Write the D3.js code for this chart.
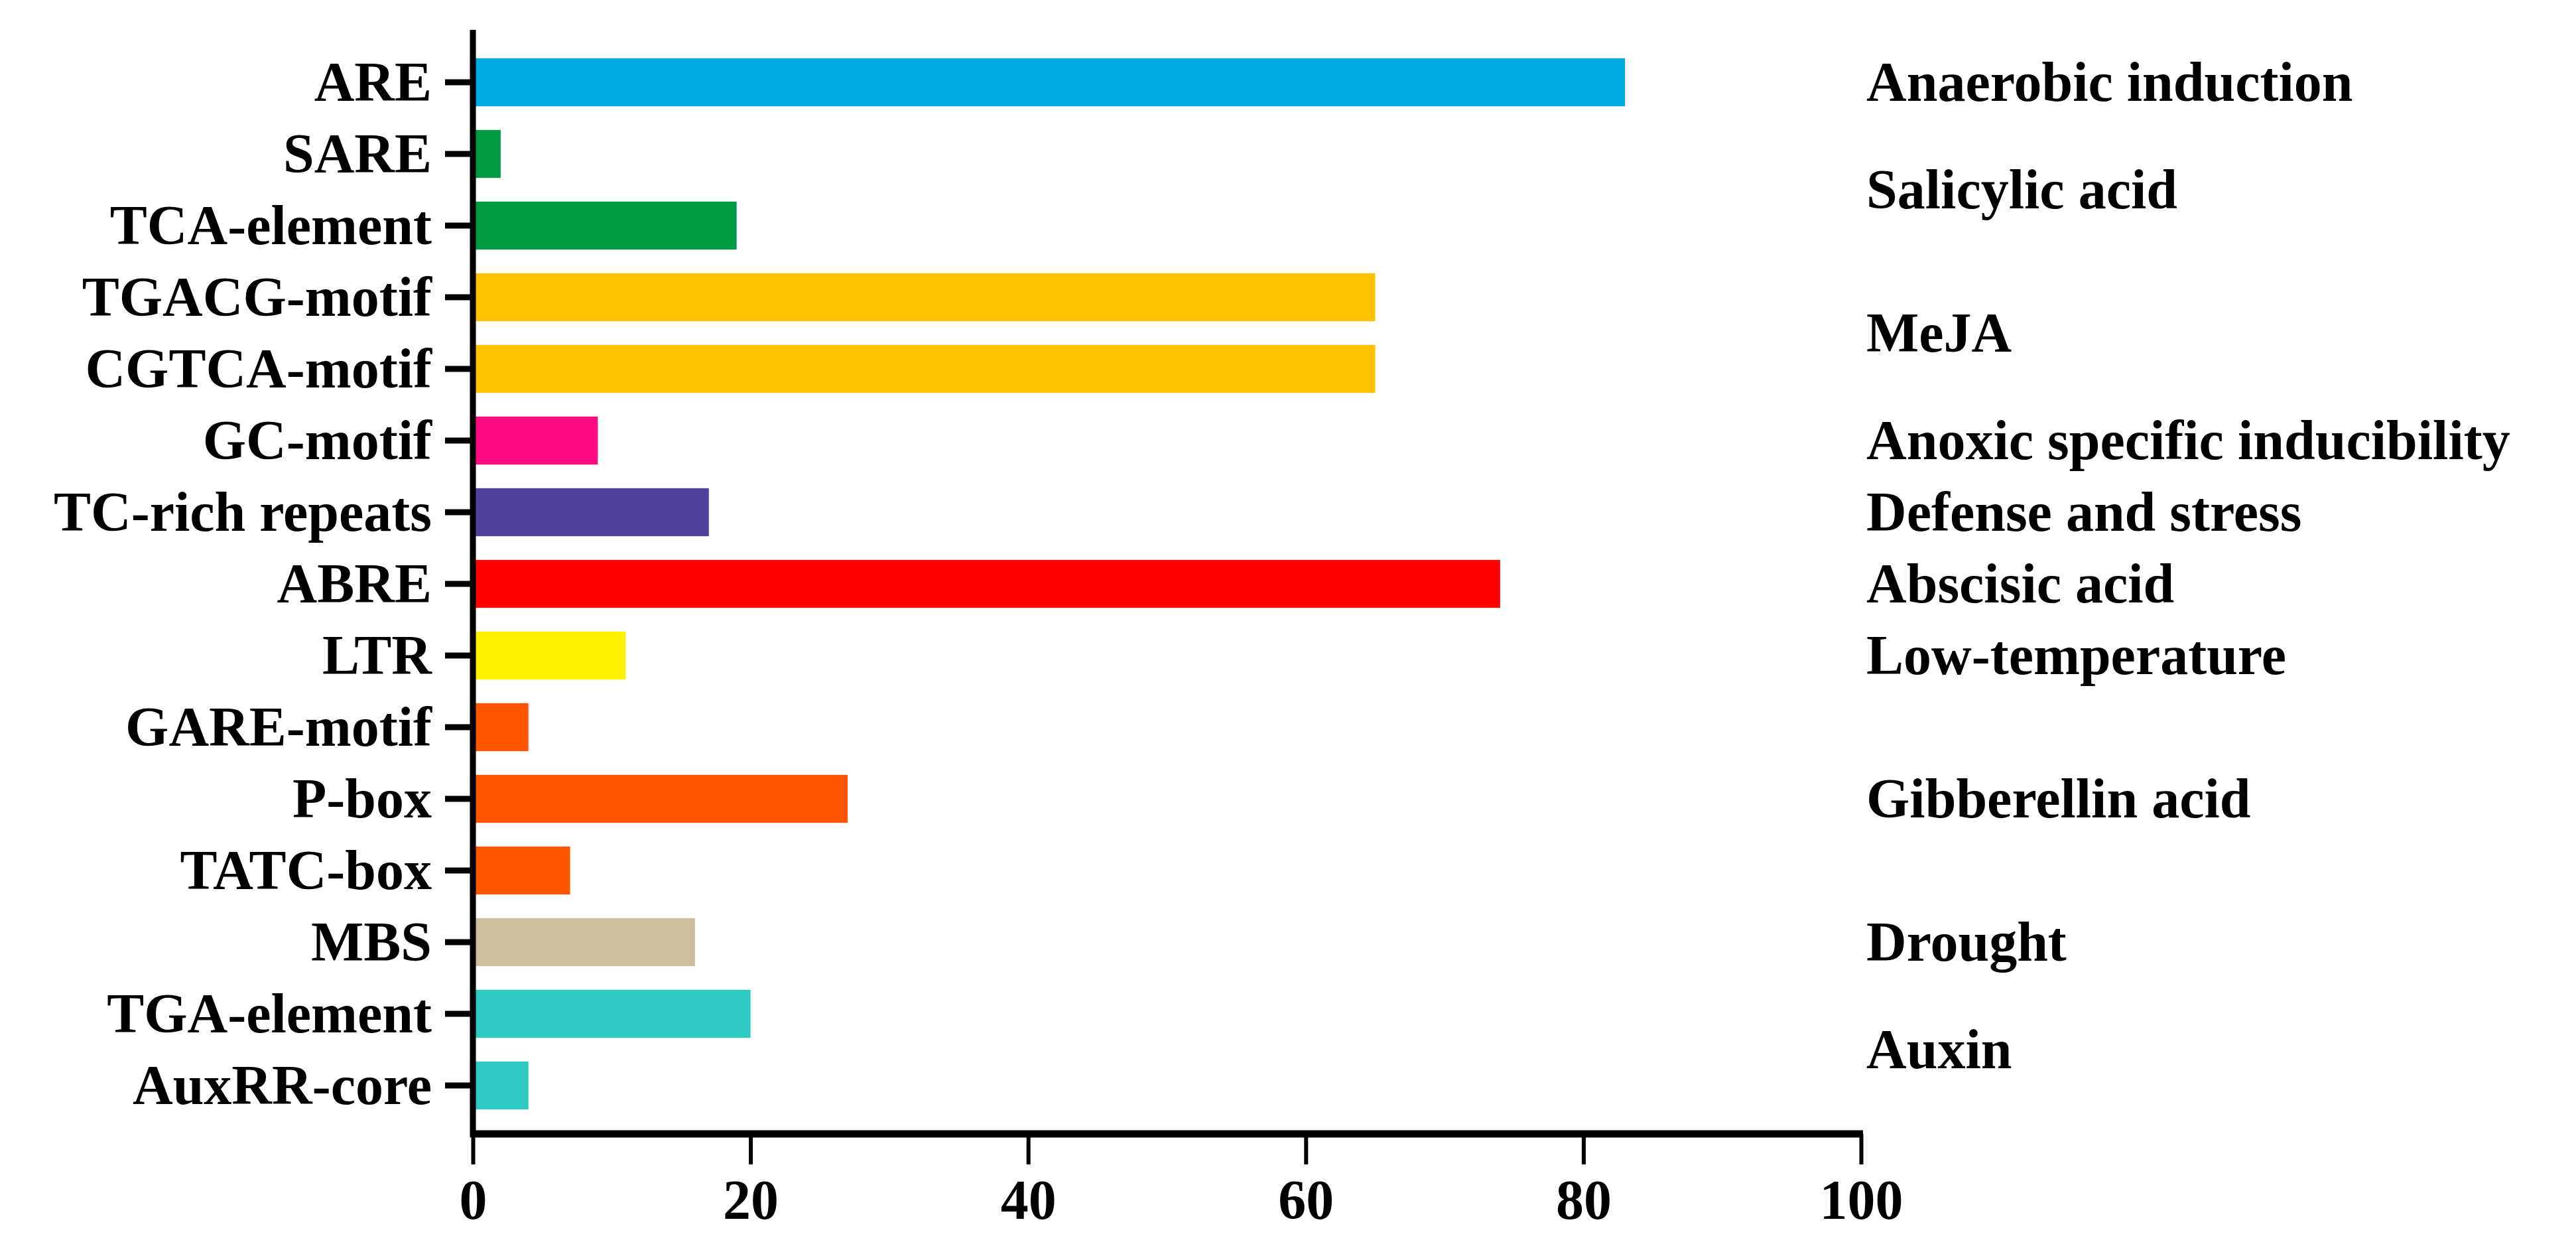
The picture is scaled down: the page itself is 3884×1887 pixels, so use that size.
<!DOCTYPE html>
<html>
  <head>
    <meta charset="utf-8" />
    <script src="https://d3js.org/d3.v7.min.js"></script>
    <style>
      body { margin: 0; background: #fff; }
      text { font-family: "Liberation Serif", "Times New Roman", serif; font-weight: bold; fill: #000; }
    </style>
  </head>
  <body>
    <div id="chart"></div>
    <script>
      const categories = ["ARE", "SARE", "TCA-element", "TGACG-motif", "CGTCA-motif", "GC-motif",
        "TC-rich repeats", "ABRE", "LTR", "GARE-motif", "P-box", "TATC-box", "MBS", "TGA-element", "AuxRR-core"];
      const values = [83, 2, 19, 65, 65, 9, 17, 74, 11, 4, 27, 7, 16, 20, 4];
      const colors = ["#00a8e1", "#009a44", "#009a44", "#ffc000", "#ffc000", "#ff0a80", "#51419a",
        "#ff0000", "#fff200", "#ff5500", "#ff5500", "#ff5500", "#cdbe9c", "#2ec9c0", "#2ec9c0"];
      const groups = ["Anaerobic induction", "Salicylic acid", "MeJA", "Anoxic specific inducibility",
        "Defense and stress", "Abscisic acid", "Low-temperature", "Gibberellin acid", "Drought", "Auxin"];
      // position of each group label, in category index units
      const groupPos = [0, 1.5, 3.5, 5, 6, 7, 8, 10, 12, 13.5];
      const xTicks = [0, 20, 40, 60, 80, 100];

      const width = 3884, height = 1887;
      const mLeft = 713, mRight = 2806, mTop = 45, mBottom = 1709;
      const step = 108, firstY = 124;

      const svg = d3.select("#chart").append("svg").attr("width", width).attr("height", height);

      const x = d3.scaleLinear().domain([0, 100]).range([mLeft, mRight]);
      const yIdx = d3.scaleLinear().domain([0, 1]).range([firstY, firstY + step]);
      const y = d3.scaleBand().domain(categories)
        .range([firstY - step / 2, firstY - step / 2 + step * categories.length])
        .paddingInner(0.33).paddingOuter(0.165);

      svg.selectAll("rect.bar").data(categories).enter().append("rect")
        .attr("class", "bar")
        .attr("x", x(0))
        .attr("y", d => y(d))
        .attr("height", y.bandwidth())
        .attr("width", (d, i) => x(values[i]) - x(0))
        .attr("fill", (d, i) => colors[i]);

      // y axis
      const yAxis = svg.append("g").attr("transform", `translate(${mLeft},0)`)
        .call(d3.axisLeft(y).tickSize(42).tickPadding(20));
      yAxis.select(".domain").remove();
      yAxis.selectAll(".tick line").attr("stroke", "#000").attr("stroke-width", 9);
      yAxis.selectAll(".tick text").attr("font-size", 84).attr("dy", "0.33em");
      svg.append("line").attr("x1", mLeft).attr("x2", mLeft).attr("y1", mTop).attr("y2", mBottom + 5)
        .attr("stroke", "#000").attr("stroke-width", 9);

      // x axis
      const xAxis = svg.append("g").attr("transform", `translate(0,${mBottom})`)
        .call(d3.axisBottom(x).tickValues(xTicks).tickSize(46).tickPadding(22));
      xAxis.select(".domain").remove();
      xAxis.selectAll(".tick line").attr("stroke", "#000").attr("stroke-width", 6);
      xAxis.selectAll(".tick text").attr("font-size", 84);
      svg.append("line").attr("x1", mLeft - 4).attr("x2", mRight + 3).attr("y1", mBottom).attr("y2", mBottom)
        .attr("stroke", "#000").attr("stroke-width", 11);

      // group labels
      svg.selectAll("text.group").data(groups).enter().append("text")
        .attr("class", "group")
        .attr("x", 2814)
        .attr("y", (d, i) => yIdx(groupPos[i]))
        .attr("dy", "0.33em")
        .attr("font-size", 84)
        .text(d => d);
    </script>
  </body>
</html>
